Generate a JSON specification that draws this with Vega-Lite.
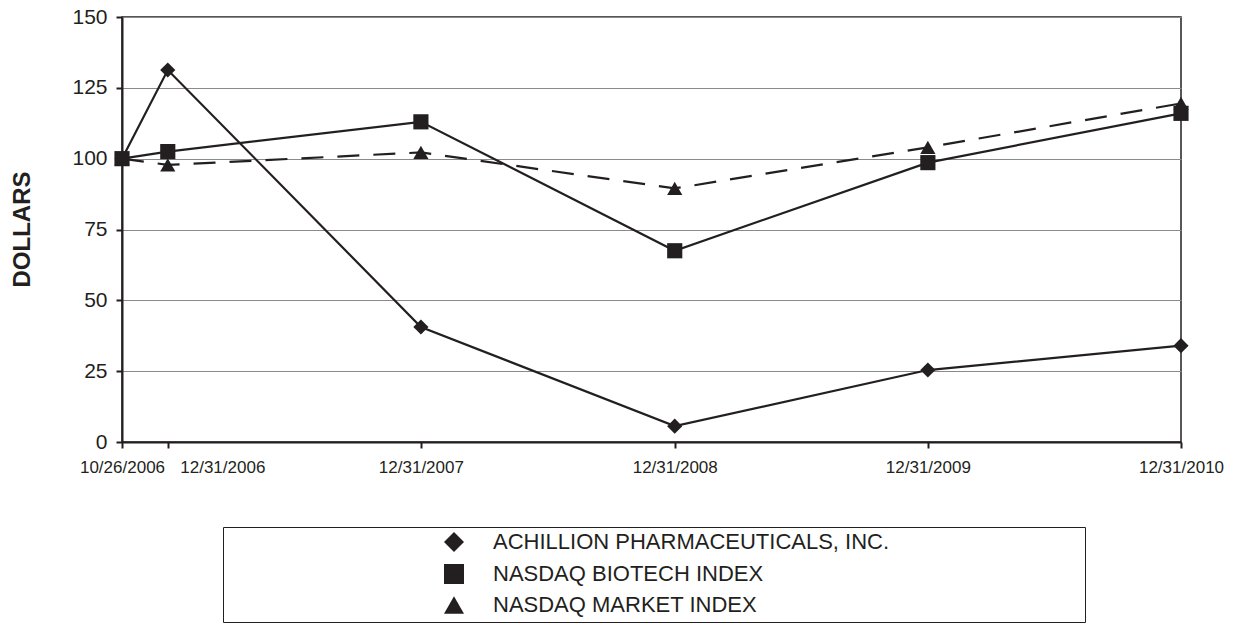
{
  "$schema": "https://vega.github.io/schema/vega-lite/v6.json",
  "width": 1059,
  "height": 425,
  "autosize": {"type": "none"},
  "padding": {"left": 122, "top": 17, "right": 52, "bottom": 184},
  "background": "white",
  "config": {
    "font": "Liberation Sans",
    "view": {"stroke": "#231f20", "strokeWidth": 1.5}
  },
  "data": {
    "values": [
      {"date": "2006-10-26", "series": "ACHILLION PHARMACEUTICALS, INC.", "value": 100},
      {"date": "2006-12-31", "series": "ACHILLION PHARMACEUTICALS, INC.", "value": 131.3},
      {"date": "2007-12-31", "series": "ACHILLION PHARMACEUTICALS, INC.", "value": 40.6},
      {"date": "2008-12-31", "series": "ACHILLION PHARMACEUTICALS, INC.", "value": 5.6},
      {"date": "2009-12-31", "series": "ACHILLION PHARMACEUTICALS, INC.", "value": 25.4},
      {"date": "2010-12-31", "series": "ACHILLION PHARMACEUTICALS, INC.", "value": 34},
      {"date": "2006-10-26", "series": "NASDAQ BIOTECH INDEX", "value": 100},
      {"date": "2006-12-31", "series": "NASDAQ BIOTECH INDEX", "value": 102.5},
      {"date": "2007-12-31", "series": "NASDAQ BIOTECH INDEX", "value": 113},
      {"date": "2008-12-31", "series": "NASDAQ BIOTECH INDEX", "value": 67.5},
      {"date": "2009-12-31", "series": "NASDAQ BIOTECH INDEX", "value": 98.6},
      {"date": "2010-12-31", "series": "NASDAQ BIOTECH INDEX", "value": 116},
      {"date": "2006-10-26", "series": "NASDAQ MARKET INDEX", "value": 100},
      {"date": "2006-12-31", "series": "NASDAQ MARKET INDEX", "value": 97.8},
      {"date": "2007-12-31", "series": "NASDAQ MARKET INDEX", "value": 102.2},
      {"date": "2008-12-31", "series": "NASDAQ MARKET INDEX", "value": 89.5},
      {"date": "2009-12-31", "series": "NASDAQ MARKET INDEX", "value": 104},
      {"date": "2010-12-31", "series": "NASDAQ MARKET INDEX", "value": 119.5}
    ]
  },
  "encoding": {
    "x": {
      "field": "date",
      "type": "temporal",
      "scale": {
        "type": "utc",
        "domain": [
          {"year": 2006, "month": 10, "date": 26, "utc": true},
          {"year": 2010, "month": 12, "date": 31, "utc": true}
        ]
      },
      "axis": {
        "title": null,
        "values": [
          {"year": 2006, "month": 10, "date": 26, "utc": true},
          {"year": 2006, "month": 12, "date": 31, "utc": true},
          {"year": 2007, "month": 12, "date": 31, "utc": true},
          {"year": 2008, "month": 12, "date": 31, "utc": true},
          {"year": 2009, "month": 12, "date": 31, "utc": true},
          {"year": 2010, "month": 12, "date": 31, "utc": true}
        ],
        "format": "%m/%d/%Y",
        "grid": false,
        "labelFontSize": 17,
        "labelColor": "#231f20",
        "labelPadding": 11,
        "labelBaseline": "top",
        "labelOverlap": false,
        "labelFlush": false,
        "labelAlign": {"condition": {"test": "utcyear(datum.value) == 2006 && utcmonth(datum.value) == 11", "value": "left"}, "value": "center"},
        "labelOffset": {"condition": {"test": "utcyear(datum.value) == 2006 && utcmonth(datum.value) == 11", "value": 12}, "value": 0},
        "tickSize": 6,
        "tickWidth": 2,
        "tickColor": "#231f20",
        "domainColor": "#231f20",
        "domainWidth": 2
      }
    },
    "y": {
      "field": "value",
      "type": "quantitative",
      "scale": {"domain": [0, 150], "nice": false, "zero": true},
      "axis": {
        "title": "DOLLARS",
        "titleFontSize": 24,
        "titleFontWeight": "bold",
        "titleColor": "#231f20",
        "titleX": -100,
        "titleY": 212,
        "titleAngle": 270,
        "titleBaseline": "middle",
        "titleAlign": "center",
        "values": [0, 25, 50, 75, 100, 125, 150],
        "labelFontSize": 21,
        "labelColor": "#231f20",
        "labelPadding": 9,
        "tickSize": 6,
        "tickWidth": 2,
        "tickColor": "#231f20",
        "domainColor": "#231f20",
        "domainWidth": 2,
        "grid": true,
        "gridColor": "#8a8a8a",
        "gridWidth": 1.2
      }
    }
  },
  "layer": [
    {
      "transform": [{"filter": "datum.series !== 'NASDAQ MARKET INDEX'"}],
      "mark": {"type": "line", "color": "#231f20", "strokeWidth": 2.2},
      "encoding": {"detail": {"field": "series", "type": "nominal"}}
    },
    {
      "transform": [{"filter": "datum.series === 'NASDAQ MARKET INDEX'"}],
      "mark": {"type": "line", "color": "#231f20", "strokeWidth": 2.2, "strokeDash": [22, 14]},
      "encoding": {}
    },
    {
      "mark": {"type": "point", "filled": true, "color": "#231f20", "opacity": 1, "size": 230},
      "encoding": {
        "shape": {
          "field": "series",
          "type": "nominal",
          "scale": {
            "domain": ["ACHILLION PHARMACEUTICALS, INC.", "NASDAQ BIOTECH INDEX", "NASDAQ MARKET INDEX"],
            "range": ["diamond", "square", "triangle-up"]
          },
          "legend": {
            "orient": "none",
            "legendX": 101,
            "legendY": 510,
            "direction": "vertical",
            "title": "\u00a0",
            "titleOrient": "right",
            "titleFontSize": 1,
            "titlePadding": 192,
            "padding": 4,
            "strokeColor": "#231f20",
            "fillColor": "white",
            "symbolSize": 400,
            "symbolOffset": 216,
            "symbolStrokeWidth": 2,
            "symbolFillColor": "#231f20",
            "symbolStrokeColor": "#231f20",
            "labelOffset": 28,
            "labelFontSize": 22,
            "labelColor": "#231f20",
            "labelLimit": 2000,
            "rowPadding": 4
          }
        }
      }
    }
  ]
}
